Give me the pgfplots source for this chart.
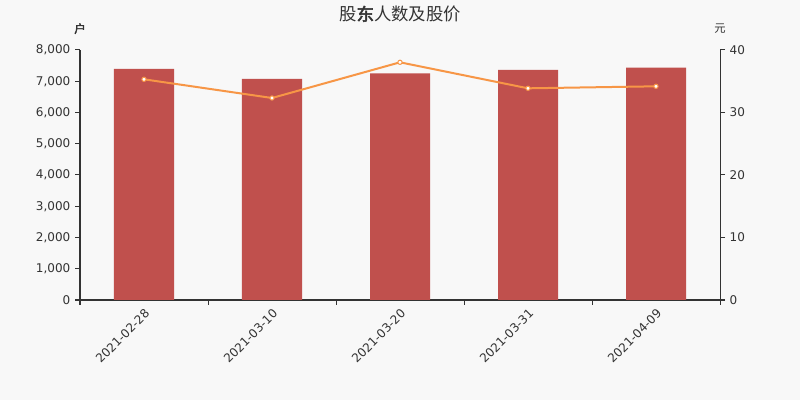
\documentclass[border=0pt]{standalone}
\usepackage{pgfplots}
\pgfplotsset{compat=1.18}
\usepackage{fontspec}
\setmainfont{DejaVu Sans}
\newfontfamily\cjk{Noto Sans CJK SC}
\newfontfamily\cjkb{Noto Sans CJK SC}[FakeBold=3]
\definecolor{bg}{HTML}{F8F8F8}
\definecolor{barred}{HTML}{C0504D}
\definecolor{lineorange}{HTML}{F79646}
\definecolor{txt}{HTML}{333333}

% 1 px of the reference = 0.75pt
\pgfplotsset{
    common/.style={
        at={(60pt,75pt)}, anchor=south west,
        scale only axis, width=480pt, height=187.5pt,
        xmin=-0.5, xmax=4.5,
        enlargelimits=false, clip=false,
        tick align=outside, major tick length=3.75pt,
        tick style={txt, line width=0.75pt},
        axis line style={txt, line width=0.75pt, -},
        ticklabel style={font=\fontsize{9}{11}\selectfont, text=txt},
        /pgf/number format/assume math mode=true,
        /pgf/number format/.cd, 1000 sep={,},
    },
}

\begin{document}
\begin{tikzpicture}
\fill[bg] (0pt,0pt) rectangle (600pt,300pt);
\node[text=txt, font=\cjk\fontsize{13}{15}\selectfont] at (300pt,289.5pt) {股{\cjkb 东}人数及股价};
\node[text=txt, font=\cjkb\fontsize{8.5}{10}\selectfont] at (60pt,278.5pt) {户};
\node[text=txt, font=\cjk\fontsize{8.5}{10}\selectfont] at (540pt,278.5pt) {元};

\begin{axis}[
    common,
    ymin=0, ymax=8000,
    axis x line*=bottom, axis y line*=left,
    ytick={0,1000,...,8000},
    xtick={-0.5,0.5,1.5,2.5,3.5,4.5},
    xticklabels={},
    extra x ticks={0,1,2,3,4},
    extra x tick labels={2021-02-28,2021-03-10,2021-03-20,2021-03-31,2021-04-09},
    extra x tick style={
        tick style={draw=none},
        x tick label style={rotate=45, anchor=north east, inner sep=1.5pt},
    },
]
\addplot[ybar, bar width=45pt, fill=barred, draw=none] coordinates {
    (0,7392) (1,7072) (2,7254) (3,7360) (4,7434)
};
\end{axis}

\begin{axis}[
    common,
    ymin=0, ymax=40,
    axis y line*=right, axis x line=none,
    ytick={0,10,...,40},
]
\addplot[lineorange, line width=1.5pt, mark=*, mark size=1.6pt,
    mark options={fill=white, draw=lineorange, line width=0.75pt}] coordinates {
    (0,35.31) (1,32.32) (2,38.03) (3,33.87) (4,34.19)
};
\end{axis}
\end{tikzpicture}
\end{document}
